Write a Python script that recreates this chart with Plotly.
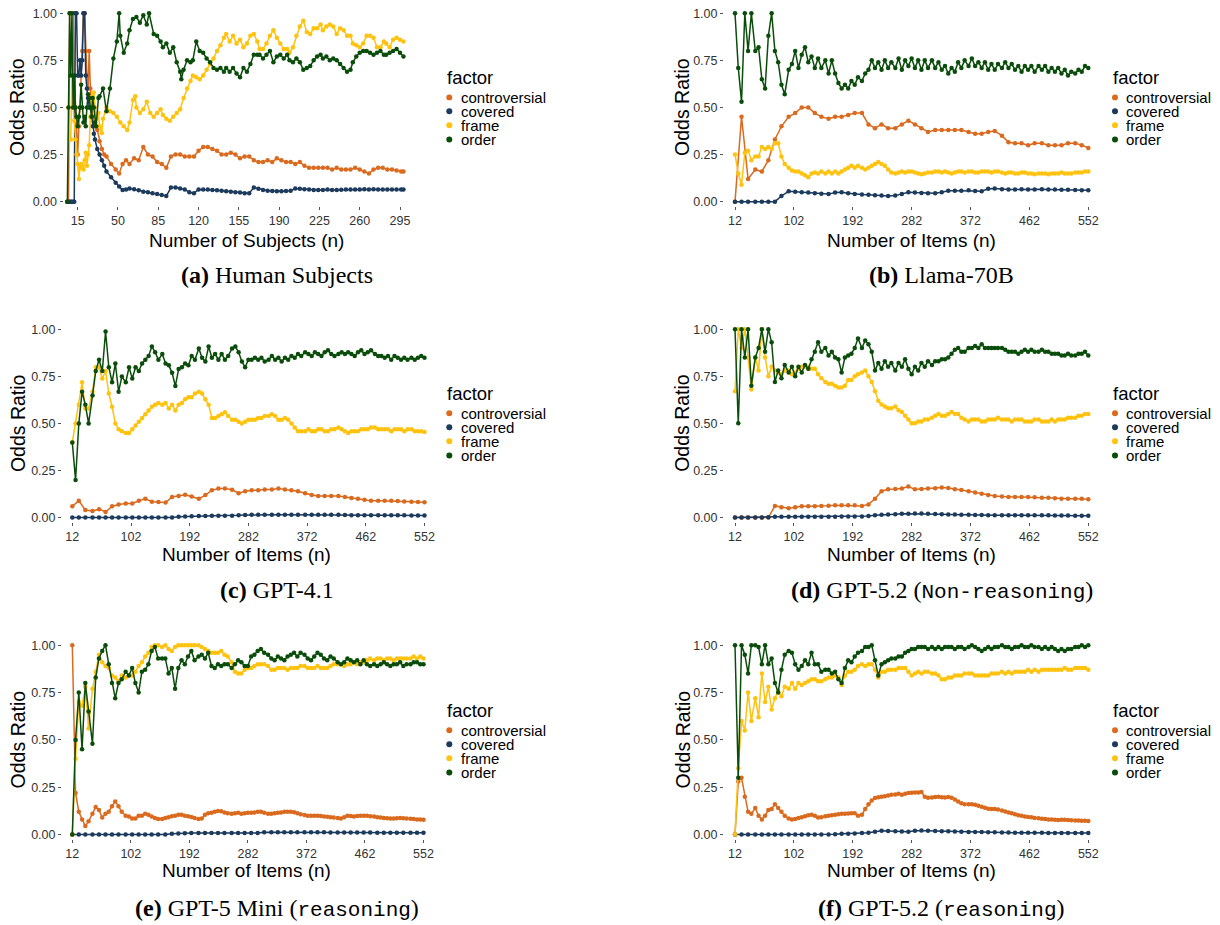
import plotly.graph_objects as go

W, H = 1220, 925

FACTORS = ["controversial", "covered", "frame", "order"]
COLORS = ["#DA6A1E", "#1B3A5C", "#FFC20E", "#0A4D0A"]

SUBJECT_TICKS = [15, 50, 85, 120, 155, 190, 225, 260, 295]
ITEM_TICKS = [12, 102, 192, 282, 372, 462, 552]
Y_TICKS = [0, 0.25, 0.5, 0.75, 1.0]
Y_TICK_LABELS = ["0.00", "0.25", "0.50", "0.75", "1.00"]

# ---------------- (a) Human subjects ----------------
A_SMOOTH_N = [6, 7, 8, 9, 10, 11, 12, 13, 14, 15, 16, 17, 18, 19, 20, 21, 22, 23, 24, 25,
              26, 27, 28, 29, 30, 32, 34, 36, 38, 40, 44, 48, 51, 54, 57, 60,
              64, 68, 72, 76, 80, 84, 88, 92, 96, 100,
              104, 108, 112, 116, 120, 124, 128, 132, 136, 140,
              144, 148, 152, 156, 160, 164, 168, 172, 176, 180,
              184, 188, 192, 196, 200, 204, 208, 212, 216, 220,
              224, 228, 232, 236, 240, 244, 248, 252, 256, 260,
              264, 268, 272, 276, 280, 284, 288, 292, 296, 298]
A_CONTRO = [0, 0, 1.0, 1.0, 1.0, 1.0, 0.67, 0.5, 0.33, 0.25, 0.4, 0.5, 0.67, 0.8, 1.0, 1.0, 0.8, 0.67, 0.6, 0.8,
            0.6, 0.5, 0.45, 0.42, 0.4, 0.38, 0.32, 0.28, 0.25, 0.24, 0.2, 0.17, 0.15, 0.2, 0.22, 0.2,
            0.23, 0.22, 0.29, 0.25, 0.24, 0.21, 0.2, 0.18, 0.24, 0.25,
            0.25, 0.24, 0.24, 0.24, 0.27, 0.29, 0.29, 0.28, 0.27, 0.25,
            0.25, 0.26, 0.25, 0.23, 0.24, 0.24, 0.22, 0.21, 0.21, 0.22,
            0.21, 0.23, 0.22, 0.21, 0.21, 0.2, 0.21, 0.19, 0.18, 0.18,
            0.18, 0.18, 0.18, 0.17, 0.18, 0.17, 0.17, 0.17, 0.18, 0.17,
            0.16, 0.15, 0.17, 0.18, 0.18, 0.17, 0.17, 0.165, 0.16, 0.16]
A_COVER = [0, 0, 0, 0, 0, 0, 0, 1.0, 1.0, 0.67, 0.67, 0.75, 0.67, 0.75, 1.0, 1.0, 0.67, 0.6, 0.55, 0.5,
           0.5, 0.45, 0.4, 0.36, 0.33, 0.28, 0.25, 0.22, 0.19, 0.16, 0.13, 0.1, 0.08, 0.062, 0.065, 0.07,
           0.066, 0.06, 0.052, 0.05, 0.045, 0.04, 0.035, 0.03, 0.075, 0.075,
           0.07, 0.065, 0.05, 0.045, 0.065, 0.065, 0.065, 0.062, 0.06, 0.058,
           0.055, 0.052, 0.05, 0.048, 0.045, 0.045, 0.075, 0.068, 0.062, 0.058,
           0.056, 0.055, 0.055, 0.056, 0.058, 0.07, 0.068, 0.066, 0.064, 0.062,
           0.062, 0.062, 0.064, 0.062, 0.062, 0.063, 0.064, 0.065, 0.064, 0.064,
           0.066, 0.065, 0.066, 0.065, 0.065, 0.064, 0.065, 0.065, 0.065, 0.065]
A_FRAME_N = [7, 8, 9, 10, 11, 12, 13, 14, 15, 16,
             17, 18, 19, 20, 21, 22, 23, 24, 25, 26,
             27, 28, 29, 30, 31, 33, 34, 36, 37, 40,
             43, 46, 49, 52, 55, 58, 60, 63, 65, 66,
             69, 72, 75, 78, 81, 84, 87, 89, 92, 95,
             98, 101, 104, 107, 110, 113, 115, 118, 121, 124,
             127, 130, 133, 136, 139, 142, 144, 147, 150, 153,
             156, 159, 162, 165, 168, 171, 173, 176, 179, 182,
             185, 188, 191, 194, 197, 199, 202, 205, 208, 211,
             214, 217, 220, 223, 226, 228, 231, 234, 237, 240,
             243, 246, 249, 252, 254, 257, 260, 263, 266, 269,
             272, 275, 278, 281, 283, 286, 289, 292, 295, 298]
A_FRAME = [0.5, 0.33, 0.33, 0.67, 0.5, 0.43, 0.33, 0.25, 0.2, 0.12,
           0.18, 0.2, 0.18, 0.17, 0.22, 0.26, 0.19, 0.25, 0.3, 0.45,
           0.54, 0.56, 0.58, 0.5, 0.44, 0.47, 0.4, 0.365, 0.44, 0.5,
           0.48, 0.47, 0.45, 0.42, 0.4, 0.38, 0.42, 0.54, 0.56, 0.5,
           0.47, 0.49, 0.53, 0.47, 0.45, 0.47, 0.49, 0.46, 0.44, 0.43,
           0.45, 0.47, 0.49, 0.55, 0.6, 0.64, 0.67, 0.66, 0.65, 0.67,
           0.7, 0.73, 0.76, 0.8, 0.83, 0.87, 0.89, 0.85, 0.88, 0.84,
           0.86, 0.82, 0.84, 0.88, 0.89, 0.85, 0.81, 0.81, 0.84, 0.88,
           0.91, 0.87, 0.84, 0.81, 0.81, 0.79, 0.82, 0.88, 0.93, 0.96,
           0.9, 0.89, 0.92, 0.92, 0.94, 0.91, 0.93, 0.94, 0.93, 0.89,
           0.92, 0.91, 0.88, 0.88, 0.84, 0.83, 0.82, 0.84, 0.88, 0.88,
           0.87, 0.82, 0.82, 0.85, 0.84, 0.82, 0.86, 0.87, 0.86, 0.85]
A_ORDER_N = [6, 7, 8, 9, 10, 11, 12, 13, 14, 15,
             16, 17, 18, 19, 20, 21, 22, 23, 24, 25,
             26, 27, 28, 29, 30, 31, 33, 34, 37, 40,
             43, 46, 49, 51, 52, 55, 58, 60, 63, 66,
             69, 72, 75, 77, 81, 84, 87, 89, 92, 95,
             98, 101, 104, 105, 107, 110, 113, 115, 118, 121,
             124, 127, 130, 133, 136, 139, 142, 144, 147, 150,
             153, 156, 159, 162, 165, 168, 171, 173, 176, 179,
             182, 185, 188, 191, 194, 197, 199, 202, 205, 208,
             211, 214, 217, 220, 223, 226, 228, 231, 234, 237,
             240, 243, 246, 249, 252, 254, 257, 260, 263, 266,
             269, 272, 275, 278, 281, 283, 286, 289, 292, 295, 298]
A_ORDER = [0.0, 0.5, 1.0, 0.67, 1.0, 0.5, 0.67, 0.5, 0.45, 0.4,
           0.45, 0.5, 0.62, 0.5, 0.42, 0.45, 0.4, 0.5, 0.57, 0.55,
           0.5, 0.45, 0.55, 0.5, 0.42, 0.4, 0.55, 0.56, 0.6, 0.48,
           0.6, 0.76, 0.85, 1.0, 0.88, 0.79, 0.84, 0.91, 0.97, 0.98,
           0.95, 0.99, 0.94, 1.0, 0.89, 0.88, 0.85, 0.82, 0.84, 0.79,
           0.82, 0.74, 0.69, 0.65, 0.7, 0.75, 0.74, 0.75, 0.85, 0.8,
           0.79, 0.76, 0.74, 0.71, 0.7, 0.71, 0.69, 0.71, 0.69, 0.71,
           0.68, 0.66, 0.71, 0.69, 0.73, 0.78, 0.78, 0.78, 0.76, 0.78,
           0.8, 0.74, 0.77, 0.78, 0.76, 0.78, 0.75, 0.74, 0.76, 0.74,
           0.7, 0.71, 0.72, 0.75, 0.77, 0.78, 0.76, 0.77, 0.75, 0.76,
           0.75, 0.73, 0.71, 0.69, 0.7, 0.74, 0.77, 0.79, 0.8, 0.8,
           0.79, 0.78, 0.79, 0.8, 0.78, 0.78, 0.79, 0.8, 0.81, 0.79, 0.77]

# ---------------- item grid shared by the LLM panels ----------------
ITEMS_N = [12, 17, 22, 27, 32, 37, 43, 48, 53, 58,
           63, 68, 73, 78, 83, 88, 94, 99, 104, 109,
           114, 119, 124, 129, 134, 139, 144, 150, 155, 160,
           165, 170, 175, 180, 185, 190, 195, 200, 206, 211,
           216, 221, 226, 231, 236, 241, 246, 251, 257, 262,
           267, 272, 277, 282, 287, 292, 297, 302, 307, 313,
           318, 323, 328, 333, 338, 343, 348, 353, 358, 363,
           369, 374, 379, 384, 389, 394, 399, 404, 409, 414,
           420, 425, 430, 435, 440, 445, 450, 455, 460, 465,
           470, 476, 481, 486, 491, 496, 501, 506, 511, 516,
           521, 526, 532, 537, 542, 547, 552]
ITEMS_N_EVEN = ITEMS_N[::2]

# ---------------- (b) Llama-70B ----------------
B_CONTRO = [0.0, 0.45, 0.12, 0.17, 0.16, 0.22, 0.33, 0.4, 0.45, 0.47,
            0.5, 0.5, 0.47, 0.45, 0.44, 0.45, 0.45, 0.46, 0.47, 0.47,
            0.41, 0.39, 0.41, 0.39, 0.39, 0.41, 0.43, 0.41, 0.39, 0.37,
            0.38, 0.38, 0.38, 0.38, 0.38, 0.37, 0.36, 0.36, 0.37, 0.375,
            0.35, 0.315, 0.31, 0.31, 0.3, 0.31, 0.31, 0.3, 0.3, 0.3,
            0.31, 0.31, 0.3, 0.285]
B_COVER = [0, 0, 0, 0, 0, 0, 0, 0.03, 0.055, 0.052,
           0.05, 0.048, 0.045, 0.042, 0.04, 0.048, 0.05, 0.045, 0.04, 0.038,
           0.036, 0.034, 0.033, 0.03, 0.032, 0.04, 0.05, 0.048, 0.046, 0.045,
           0.045, 0.05, 0.058, 0.058, 0.058, 0.06, 0.056, 0.055, 0.068, 0.07,
           0.066, 0.064, 0.065, 0.066, 0.065, 0.065, 0.066, 0.065, 0.064, 0.063,
           0.063, 0.062, 0.061, 0.06]
B_FRAME = [0.25, 0.15, 0.09, 0.26, 0.27, 0.22, 0.24, 0.24, 0.29, 0.28,
           0.29, 0.28, 0.31, 0.31, 0.24, 0.2, 0.18, 0.165, 0.16, 0.16,
           0.15, 0.14, 0.13, 0.15, 0.155, 0.15, 0.16, 0.15, 0.16, 0.15,
           0.16, 0.15, 0.16, 0.17, 0.18, 0.19, 0.18, 0.19, 0.18, 0.17,
           0.18, 0.19, 0.2, 0.21, 0.2, 0.19, 0.17, 0.155, 0.15, 0.155,
           0.16, 0.155, 0.16, 0.16, 0.155, 0.15, 0.145, 0.15, 0.155, 0.155,
           0.16, 0.16, 0.155, 0.16, 0.155, 0.15, 0.155, 0.16, 0.16, 0.155,
           0.16, 0.16, 0.155, 0.155, 0.16, 0.16, 0.16, 0.155, 0.16, 0.16,
           0.155, 0.15, 0.155, 0.155, 0.15, 0.15, 0.155, 0.155, 0.15, 0.15,
           0.145, 0.15, 0.15, 0.15, 0.145, 0.15, 0.15, 0.15, 0.155, 0.15,
           0.15, 0.15, 0.155, 0.155, 0.155, 0.16, 0.16]
B_ORDER = [1.0, 0.71, 0.53, 1.0, 0.8, 1.0, 0.8, 0.82, 0.65, 0.6,
           0.88, 1.0, 0.8, 0.74, 0.62, 0.57, 0.7, 0.73, 0.8, 0.71,
           0.78, 0.82, 0.74, 0.77, 0.71, 0.76, 0.71, 0.75, 0.68, 0.75,
           0.68, 0.63, 0.6, 0.62, 0.6, 0.64, 0.62, 0.66, 0.64, 0.68,
           0.7, 0.75, 0.71, 0.74, 0.7, 0.75, 0.71, 0.74, 0.71, 0.76,
           0.7, 0.75, 0.72, 0.76, 0.71, 0.75, 0.7, 0.75, 0.71, 0.75,
           0.71, 0.74, 0.7, 0.72, 0.68, 0.71, 0.69, 0.74, 0.71, 0.75,
           0.72, 0.76, 0.72, 0.74, 0.71, 0.74, 0.7, 0.73, 0.7, 0.73,
           0.71, 0.74, 0.71, 0.73, 0.7, 0.72, 0.69, 0.72, 0.7, 0.72,
           0.69, 0.72, 0.7, 0.72, 0.69, 0.71, 0.69, 0.71, 0.68, 0.7,
           0.67, 0.69, 0.68, 0.7, 0.69, 0.72, 0.71]

# ---------------- (c) GPT-4.1 ----------------
C_CONTRO = [0.06, 0.09, 0.04, 0.035, 0.045, 0.03, 0.06, 0.07, 0.075, 0.075,
            0.09, 0.1, 0.085, 0.083, 0.08, 0.11, 0.115, 0.122, 0.112, 0.1,
            0.12, 0.145, 0.155, 0.155, 0.148, 0.13, 0.14, 0.145, 0.145, 0.15,
            0.15, 0.155, 0.15, 0.145, 0.14, 0.13, 0.12, 0.115, 0.115, 0.115,
            0.115, 0.11, 0.105, 0.1, 0.095, 0.09, 0.09, 0.09, 0.09, 0.088,
            0.086, 0.085, 0.083, 0.082]
C_COVER = [0, 0, 0, 0, 0, 0, 0, 0, 0, 0,
           0, 0, 0, 0, 0, 0, 0.004, 0.006, 0.007, 0.008,
           0.009, 0.01, 0.01, 0.01, 0.01, 0.012, 0.014, 0.015, 0.015, 0.015,
           0.015, 0.015, 0.015, 0.015, 0.015, 0.015, 0.015, 0.015, 0.015, 0.015,
           0.015, 0.014, 0.013, 0.013, 0.013, 0.013, 0.013, 0.012, 0.012, 0.012,
           0.012, 0.011, 0.011, 0.011]
C_FRAME = [0.4, 0.5, 0.6, 0.72, 0.58, 0.58, 0.67, 0.8, 0.8, 0.74,
           0.78, 0.66, 0.59, 0.5, 0.47, 0.46, 0.45, 0.45, 0.47, 0.49,
           0.51, 0.53, 0.55, 0.57, 0.59, 0.6, 0.61, 0.6, 0.61, 0.58,
           0.6, 0.57, 0.6, 0.61, 0.63, 0.64, 0.64, 0.66, 0.67, 0.66,
           0.63, 0.6, 0.53, 0.53, 0.54, 0.55, 0.56, 0.54, 0.52, 0.52,
           0.51, 0.5, 0.51, 0.52, 0.52, 0.52, 0.53, 0.53, 0.54, 0.54,
           0.55, 0.54, 0.52, 0.52, 0.53, 0.52, 0.5, 0.48, 0.46, 0.46,
           0.46, 0.47, 0.46, 0.46, 0.47, 0.47, 0.46, 0.46, 0.47, 0.47,
           0.48, 0.47, 0.46, 0.45, 0.46, 0.46, 0.46, 0.47, 0.47, 0.47,
           0.48, 0.48, 0.47, 0.47, 0.47, 0.47, 0.46, 0.47, 0.47, 0.47,
           0.46, 0.47, 0.47, 0.46, 0.46, 0.46, 0.455]
C_ORDER = [0.4, 0.2, 0.5, 0.67, 0.6, 0.5, 0.65, 0.78, 0.84, 0.78,
           0.99, 0.8, 0.72, 0.82, 0.67, 0.75, 0.72, 0.8, 0.74, 0.8,
           0.78, 0.82, 0.84, 0.86, 0.91, 0.88, 0.84, 0.87, 0.82, 0.81,
           0.77, 0.7, 0.79, 0.8, 0.82, 0.81, 0.86, 0.84, 0.9, 0.85,
           0.83, 0.91, 0.85, 0.87, 0.84, 0.87, 0.84, 0.86, 0.9, 0.91,
           0.88, 0.83, 0.8, 0.84, 0.84, 0.85, 0.84, 0.85, 0.83, 0.84,
           0.86, 0.84, 0.85, 0.83, 0.85, 0.84, 0.86, 0.85, 0.87, 0.86,
           0.88, 0.87, 0.86, 0.88, 0.87, 0.86, 0.88, 0.89, 0.87, 0.86,
           0.87, 0.88, 0.87, 0.88, 0.87, 0.86, 0.88, 0.89, 0.87, 0.88,
           0.89, 0.87, 0.86, 0.86, 0.85, 0.86, 0.84, 0.86, 0.85, 0.84,
           0.85, 0.84, 0.85, 0.84, 0.85, 0.86, 0.85]

# ---------------- (d) GPT-5.2 non-reasoning ----------------
D_CONTRO = [0, 0, 0, 0, 0, 0, 0.062, 0.055, 0.05, 0.055,
            0.06, 0.06, 0.06, 0.062, 0.063, 0.065, 0.065, 0.065, 0.065, 0.062,
            0.07, 0.1, 0.14, 0.15, 0.152, 0.155, 0.165, 0.15, 0.152, 0.154,
            0.156, 0.16, 0.157, 0.15, 0.146, 0.14, 0.133, 0.127, 0.12, 0.115,
            0.112, 0.11, 0.11, 0.11, 0.11, 0.108, 0.106, 0.105, 0.103, 0.1,
            0.1, 0.1, 0.1, 0.097]
D_COVER = [0, 0, 0, 0, 0, 0.002, 0.004, 0.005, 0.005, 0.005,
           0.005, 0.005, 0.005, 0.005, 0.005, 0.005, 0.006, 0.006, 0.006, 0.006,
           0.008, 0.012, 0.015, 0.016, 0.018, 0.02, 0.02, 0.022, 0.022, 0.02,
           0.019, 0.018, 0.017, 0.016, 0.015, 0.015, 0.014, 0.014, 0.013, 0.013,
           0.013, 0.013, 0.013, 0.012, 0.012, 0.012, 0.012, 0.012, 0.011, 0.011,
           0.011, 0.01, 0.01, 0.01]
D_FRAME = [0.67, 1.0, 0.9, 1.0, 0.85, 0.68, 0.85, 0.78, 1.0, 0.85,
           0.75, 0.8, 0.78, 0.77, 0.76, 0.78, 0.78, 0.76, 0.77, 0.79,
           0.8, 0.8, 0.8, 0.79, 0.79, 0.76, 0.74, 0.72, 0.71, 0.71,
           0.7, 0.69, 0.69, 0.7, 0.73, 0.73, 0.75, 0.76, 0.77, 0.78,
           0.75, 0.72, 0.67, 0.62, 0.6, 0.59, 0.58, 0.58, 0.59, 0.57,
           0.56, 0.54, 0.52, 0.5, 0.5, 0.51, 0.51, 0.52, 0.52, 0.53,
           0.54, 0.55, 0.54, 0.54, 0.55, 0.56, 0.55, 0.55, 0.53, 0.52,
           0.51, 0.52, 0.52, 0.52, 0.51, 0.51, 0.52, 0.52, 0.52, 0.53,
           0.52, 0.52, 0.52, 0.51, 0.52, 0.52, 0.52, 0.51, 0.51, 0.51,
           0.52, 0.52, 0.51, 0.51, 0.51, 0.52, 0.51, 0.52, 0.52, 0.52,
           0.53, 0.53, 0.53, 0.54, 0.54, 0.55, 0.55]
D_ORDER = [1.0, 0.5, 1.0, 0.85, 1.0, 0.7, 0.85, 0.9, 1.0, 0.88,
           1.0, 0.93, 0.72, 0.78, 0.74, 0.81, 0.77, 0.8, 0.75, 0.8,
           0.77, 0.81, 0.79, 0.84, 0.88, 0.93, 0.88, 0.9, 0.86, 0.88,
           0.85, 0.84, 0.77, 0.85, 0.86, 0.87, 0.9, 0.95, 0.9, 0.94,
           0.92, 0.88, 0.78, 0.82, 0.79, 0.83, 0.8, 0.82, 0.78, 0.82,
           0.8, 0.84, 0.79, 0.76, 0.8, 0.78, 0.82, 0.8, 0.83, 0.81,
           0.83, 0.83, 0.84, 0.84, 0.85, 0.87, 0.89, 0.9, 0.88, 0.88,
           0.9, 0.9, 0.91, 0.9, 0.92, 0.9, 0.9, 0.9, 0.9, 0.9,
           0.9, 0.89, 0.88, 0.88, 0.88, 0.87, 0.88, 0.89, 0.88, 0.89,
           0.88, 0.88, 0.89, 0.88, 0.88, 0.87, 0.87, 0.87, 0.86, 0.86,
           0.87, 0.86, 0.86, 0.87, 0.87, 0.88, 0.86]

# ---------------- (e) GPT-5 Mini reasoning ----------------
E_CONTRO = [1.0, 0.22, 0.12, 0.08, 0.045, 0.07, 0.11, 0.145, 0.13, 0.09,
            0.11, 0.12, 0.15, 0.175, 0.15, 0.12, 0.1, 0.095, 0.085, 0.085,
            0.1, 0.1, 0.11, 0.105, 0.095, 0.088, 0.082, 0.082, 0.088, 0.092,
            0.097, 0.1, 0.105, 0.105, 0.1, 0.097, 0.093, 0.088, 0.082, 0.085,
            0.105, 0.112, 0.115, 0.12, 0.125, 0.123, 0.117, 0.113, 0.11, 0.113,
            0.115, 0.11, 0.112, 0.115, 0.115, 0.117, 0.12, 0.12, 0.115, 0.11,
            0.11, 0.112, 0.115, 0.117, 0.12, 0.12, 0.12, 0.118, 0.113, 0.108,
            0.103, 0.1, 0.1, 0.1, 0.1, 0.098, 0.096, 0.094, 0.092, 0.09,
            0.088, 0.085, 0.092, 0.1, 0.098, 0.095, 0.098, 0.1, 0.1, 0.1,
            0.097, 0.095, 0.092, 0.09, 0.088, 0.086, 0.085, 0.085, 0.086, 0.087,
            0.086, 0.085, 0.084, 0.082, 0.08, 0.079, 0.078]
E_COVER = [0, 0, 0, 0, 0, 0, 0, 0, 0, 0,
           0, 0, 0, 0, 0, 0.004, 0.006, 0.007, 0.008, 0.008,
           0.008, 0.008, 0.008, 0.008, 0.008, 0.009, 0.009, 0.009, 0.009, 0.012,
           0.012, 0.012, 0.012, 0.012, 0.012, 0.012, 0.012, 0.012, 0.012, 0.011,
           0.011, 0.011, 0.011, 0.011, 0.011, 0.011, 0.01, 0.01, 0.01, 0.01,
           0.01, 0.01, 0.01, 0.01]
E_FRAME = [0.0, 0.4, 0.7, 0.68, 0.78, 0.56, 0.77, 0.86, 0.95, 0.91,
           0.89, 0.88, 0.84, 0.83, 0.81, 0.84, 0.83, 0.84, 0.84, 0.86,
           0.89, 0.91, 0.94, 0.96, 0.99, 1.0, 1.0, 0.99, 1.0, 0.98,
           0.97, 0.99, 1.0, 1.0, 1.0, 1.0, 1.0, 1.0, 1.0, 0.99,
           0.98, 0.97, 0.96, 0.96, 0.96, 0.97, 0.95, 0.94, 0.91, 0.86,
           0.85, 0.85, 0.87, 0.88, 0.88, 0.89, 0.9, 0.9, 0.9, 0.89,
           0.87, 0.87, 0.88, 0.88, 0.88, 0.87, 0.88, 0.88, 0.88, 0.89,
           0.89, 0.88, 0.88, 0.88, 0.89, 0.88, 0.88, 0.88, 0.89, 0.9,
           0.9, 0.9, 0.89, 0.9, 0.9, 0.91, 0.9, 0.91, 0.91, 0.92,
           0.93, 0.92, 0.93, 0.93, 0.92, 0.93, 0.93, 0.92, 0.93, 0.93,
           0.93, 0.93, 0.93, 0.94, 0.93, 0.94, 0.93]
E_ORDER = [0.0, 0.5, 0.75, 0.45, 0.8, 0.65, 0.48, 0.83, 0.93, 0.97,
           1.0, 0.9, 0.8, 0.72, 0.8, 0.82, 0.86, 0.84, 0.88, 0.8,
           0.75, 0.86, 0.87, 0.9, 0.97, 0.99, 0.93, 0.93, 0.93, 0.85,
           0.88, 0.77, 0.88, 0.92, 0.9, 0.94, 0.97, 0.92, 0.94, 0.95,
           0.93, 0.96, 0.89, 0.88, 0.9, 0.89, 0.9, 0.9, 0.88, 0.9,
           0.92, 0.91, 0.89, 0.89, 0.94, 0.95, 0.97, 0.98, 0.96, 0.95,
           0.93, 0.92, 0.94, 0.93, 0.92, 0.94, 0.95, 0.96, 0.94, 0.96,
           0.95, 0.93, 0.92, 0.94, 0.96, 0.95, 0.93, 0.92, 0.94, 0.93,
           0.91, 0.9, 0.91, 0.93, 0.92, 0.91, 0.92, 0.9, 0.92, 0.9,
           0.89, 0.9, 0.89, 0.9, 0.91, 0.9, 0.89, 0.9, 0.9, 0.91,
           0.89, 0.9, 0.9, 0.91, 0.91, 0.9, 0.9]

# ---------------- (f) GPT-5.2 reasoning ----------------
F_CONTRO = [0.0, 0.28, 0.3, 0.2, 0.12, 0.11, 0.14, 0.1, 0.08, 0.1,
            0.13, 0.135, 0.16, 0.14, 0.12, 0.1, 0.085, 0.08, 0.082, 0.088,
            0.092, 0.097, 0.102, 0.105, 0.1, 0.09, 0.092, 0.097, 0.1, 0.102,
            0.105, 0.107, 0.11, 0.11, 0.111, 0.112, 0.113, 0.1, 0.105, 0.135,
            0.16, 0.18, 0.193, 0.197, 0.2, 0.202, 0.207, 0.21, 0.212, 0.215,
            0.21, 0.216, 0.219, 0.221, 0.222, 0.222, 0.225, 0.2, 0.195, 0.196,
            0.199, 0.2, 0.197, 0.196, 0.198, 0.195, 0.185, 0.175, 0.165, 0.16,
            0.16, 0.16, 0.158, 0.152, 0.147, 0.142, 0.137, 0.135, 0.135, 0.132,
            0.127, 0.122, 0.117, 0.112, 0.107, 0.102, 0.099, 0.096, 0.093, 0.091,
            0.088, 0.086, 0.084, 0.082, 0.08, 0.079, 0.078, 0.077, 0.078, 0.078,
            0.077, 0.076, 0.075, 0.074, 0.073, 0.073, 0.072]
F_COVER = [0, 0, 0, 0, 0, 0, 0, 0, 0, 0,
           0, 0, 0, 0, 0, 0.002, 0.004, 0.005, 0.006, 0.008,
           0.01, 0.015, 0.02, 0.019, 0.017, 0.016, 0.015, 0.02, 0.021, 0.02,
           0.019, 0.018, 0.017, 0.016, 0.015, 0.014, 0.013, 0.013, 0.012, 0.012,
           0.011, 0.011, 0.01, 0.01, 0.01, 0.01, 0.01, 0.009, 0.009, 0.009,
           0.009, 0.009, 0.009, 0.009]
F_FRAME = [0.0, 0.35, 0.6, 0.55, 0.75, 0.6, 0.72, 0.62, 0.85, 0.7,
           0.78, 0.66, 0.72, 0.76, 0.73, 0.78, 0.77, 0.8, 0.77, 0.8,
           0.79, 0.8, 0.81, 0.82, 0.82, 0.81, 0.81, 0.82, 0.83, 0.83,
           0.84, 0.83, 0.79, 0.84, 0.86, 0.86, 0.87, 0.89, 0.9, 0.89,
           0.9, 0.9, 0.87, 0.83, 0.86, 0.86, 0.87, 0.87, 0.87, 0.88,
           0.88, 0.88, 0.86, 0.84, 0.85, 0.86, 0.85, 0.86, 0.86, 0.85,
           0.85, 0.84, 0.82, 0.82, 0.83, 0.83, 0.84, 0.84, 0.84, 0.85,
           0.85, 0.85, 0.84, 0.84, 0.84, 0.84, 0.84, 0.85, 0.85, 0.85,
           0.86, 0.85, 0.86, 0.85, 0.86, 0.86, 0.86, 0.86, 0.87, 0.86,
           0.87, 0.86, 0.87, 0.87, 0.87, 0.87, 0.87, 0.87, 0.87, 0.88,
           0.87, 0.87, 0.88, 0.88, 0.88, 0.88, 0.87]
F_ORDER = [1.0, 0.3, 1.0, 0.95, 0.85, 1.0, 1.0, 0.99, 0.9, 1.0,
           0.9, 0.93, 0.8, 0.75, 0.87, 0.95, 0.97, 0.96, 0.9, 0.87,
           0.89, 0.92, 0.9, 0.96, 0.9, 0.9, 0.86, 0.87, 0.87, 0.85,
           0.86, 0.82, 0.8, 0.88, 0.92, 0.91, 0.94, 0.96, 0.97, 0.99,
           0.99, 1.0, 0.92, 0.84, 0.9, 0.91, 0.92, 0.93, 0.93, 0.94,
           0.94, 0.96, 0.97, 0.98, 0.98, 0.99, 0.99, 0.99, 0.98, 0.99,
           0.98, 0.99, 0.98, 0.99, 0.99, 0.99, 0.98, 0.99, 0.99, 0.98,
           0.99, 1.0, 0.99, 0.98, 0.97, 0.98, 0.99, 0.98, 0.99, 0.99,
           1.0, 0.99, 0.99, 0.98, 0.99, 0.99, 1.0, 0.99, 0.99, 1.0,
           0.99, 0.99, 0.98, 0.99, 0.98, 0.99, 0.98, 0.97, 0.98, 0.97,
           0.98, 0.98, 0.99, 0.99, 1.0, 0.99, 1.0]

MONO = "<span style='font-family:Liberation Mono;font-size:21px'>{}</span>"
CAPTIONS = [
    "<b>(a)</b> Human Subjects",
    "<b>(b)</b> Llama-70B",
    "<b>(c)</b> GPT-4.1",
    "<b>(d)</b> GPT-5.2 (" + MONO.format("Non-reasoning") + ")",
    "<b>(e)</b> GPT-5 Mini (" + MONO.format("reasoning") + ")",
    "<b>(f)</b> GPT-5.2 (" + MONO.format("reasoning") + ")",
]
X_TITLES = ["Number of Subjects (n)"] + ["Number of Items (n)"] * 5

PANEL_SERIES = [
    [(A_SMOOTH_N, A_CONTRO), (A_SMOOTH_N, A_COVER), (A_FRAME_N, A_FRAME), (A_ORDER_N, A_ORDER)],
    [(ITEMS_N_EVEN, B_CONTRO), (ITEMS_N_EVEN, B_COVER), (ITEMS_N, B_FRAME), (ITEMS_N, B_ORDER)],
    [(ITEMS_N_EVEN, C_CONTRO), (ITEMS_N_EVEN, C_COVER), (ITEMS_N, C_FRAME), (ITEMS_N, C_ORDER)],
    [(ITEMS_N_EVEN, D_CONTRO), (ITEMS_N_EVEN, D_COVER), (ITEMS_N, D_FRAME), (ITEMS_N, D_ORDER)],
    [(ITEMS_N, E_CONTRO), (ITEMS_N_EVEN, E_COVER), (ITEMS_N, E_FRAME), (ITEMS_N, E_ORDER)],
    [(ITEMS_N, F_CONTRO), (ITEMS_N_EVEN, F_COVER), (ITEMS_N, F_FRAME), (ITEMS_N, F_ORDER)],
]

# ---------------- layout geometry (pixels) ----------------
GEOM = [
    dict(xcal=(15, 77.7, 295, 400.0), xdom=(63.5, 425), ycal=(13.3, 202.3), row=0, col=0),
    dict(xcal=(12, 735.0, 552, 1088.3), xdom=(724, 1100), ycal=(13.3, 202.3), row=0, col=1),
    dict(xcal=(12, 72.3, 552, 424.5), xdom=(62, 437), ycal=(330.7, 519.3), row=1, col=0),
    dict(xcal=(12, 735.0, 552, 1088.3), xdom=(724, 1100), ycal=(330.2, 519.3), row=1, col=1),
    dict(xcal=(12, 72.3, 552, 423.5), xdom=(62, 437), ycal=(647.3, 837.3), row=2, col=0),
    dict(xcal=(12, 735.0, 552, 1088.3), xdom=(724, 1100), ycal=(647.3, 837.3), row=2, col=1),
]

SANS = "Liberation Sans"
SERIF = "Liberation Serif"

fig = go.Figure()
layout = dict(width=W, height=H, margin=dict(l=0, r=0, t=0, b=0),
              plot_bgcolor="white", paper_bgcolor="white", showlegend=False)
annotations = []
shapes = []


def xp(px):
    return px / W


def yp(py):
    return 1 - py / H


for i, (series, g) in enumerate(zip(PANEL_SERIES, GEOM)):
    sfx = "" if i == 0 else str(i + 1)
    v0, p0, v1, p1 = g["xcal"]
    s = (p1 - p0) / (v1 - v0)
    left, right = g["xdom"]
    xr = [v0 + (left - p0) / s, v0 + (right - p0) / s]
    p_one, p_zero = g["ycal"]
    sy = p_zero - p_one
    top, bottom = p_one - 10, p_zero + 4.0
    yr = [(p_zero - bottom) / sy, (p_zero - top) / sy]
    ticks = SUBJECT_TICKS if i == 0 else ITEM_TICKS
    layout["xaxis" + sfx] = dict(domain=[xp(left), xp(right)], range=xr, anchor="y" + sfx,
                                 tickmode="array", tickvals=ticks, ticktext=[str(t) for t in ticks],
                                 showgrid=False, zeroline=False, showline=False,
                                 ticks="outside", ticklen=3, tickwidth=1, tickcolor="#555",
                                 tickfont=dict(family=SANS, size=12.5, color="#333"))
    layout["yaxis" + sfx] = dict(domain=[yp(bottom), yp(top)], range=yr, anchor="x" + sfx,
                                 tickmode="array", tickvals=Y_TICKS, ticktext=Y_TICK_LABELS,
                                 showgrid=False, zeroline=False, showline=False,
                                 ticks="outside", ticklen=3, tickwidth=1, tickcolor="#555",
                                 tickfont=dict(family=SANS, size=12.5, color="#333"))
    for (nx, vals), name, color in zip(series, FACTORS, COLORS):
        fig.add_trace(go.Scatter(x=nx, y=vals, name=name, mode="lines+markers",
                                 xaxis="x" + sfx, yaxis="y" + sfx,
                                 line=dict(color=color, width=1.5),
                                 marker=dict(color=color, size=4.5),
                                 cliponaxis=False, hoverinfo="skip", showlegend=False))

    row, col = g["row"], g["col"]
    dy = [0, 317, 635][row]
    annotations.append(dict(text="Odds Ratio", x=xp([17.5, 682.5][col]), y=yp((p_one + p_zero) / 2),
                            xref="paper", yref="paper", showarrow=False, textangle=-90,
                            xanchor="center", yanchor="middle",
                            font=dict(family=SANS, size=19.5, color="black")))
    annotations.append(dict(text=X_TITLES[i], x=xp([246, 911][col]), y=yp([241.5, 556.5, 873.5][row]),
                            xref="paper", yref="paper", showarrow=False,
                            xanchor="center", yanchor="middle",
                            font=dict(family=SANS, size=19, color="black")))
    tx = [445, 1110.5][col]
    dot_x = [449.3, 1115.0][col]
    lab_x = [458.5, 1124.0][col]
    annotations.append(dict(text="factor", x=xp(tx), y=yp(78 + dy), xref="paper", yref="paper",
                            showarrow=False, xanchor="left", yanchor="middle",
                            font=dict(family=SANS, size=18.5, color="black")))
    for j, (name, color) in enumerate(zip(FACTORS, COLORS)):
        ey = [97.7, 111.7, 125.7, 139.9][j] + dy
        r = 3.0
        shapes.append(dict(type="circle", xref="paper", yref="paper",
                           x0=xp(dot_x - r), x1=xp(dot_x + r), y0=yp(ey + r), y1=yp(ey - r),
                           fillcolor=color, line=dict(width=0)))
        annotations.append(dict(text=name, x=xp(lab_x), y=yp(ey), xref="paper", yref="paper",
                                showarrow=False, xanchor="left", yanchor="middle",
                                font=dict(family=SANS, size=15, color="black")))
    annotations.append(dict(text=CAPTIONS[i], x=xp([277, 942][col]), y=yp([276, 592, 911][row]),
                            xref="paper", yref="paper", showarrow=False,
                            xanchor="center", yanchor="middle",
                            font=dict(family=SERIF, size=24, color="black")))

layout["annotations"] = annotations
layout["shapes"] = shapes
fig.update_layout(**layout)
fig.write_html("out.html", config={"displayModeBar": False},
               post_script="document.body.style.margin='0px';document.body.style.overflow='hidden';")
